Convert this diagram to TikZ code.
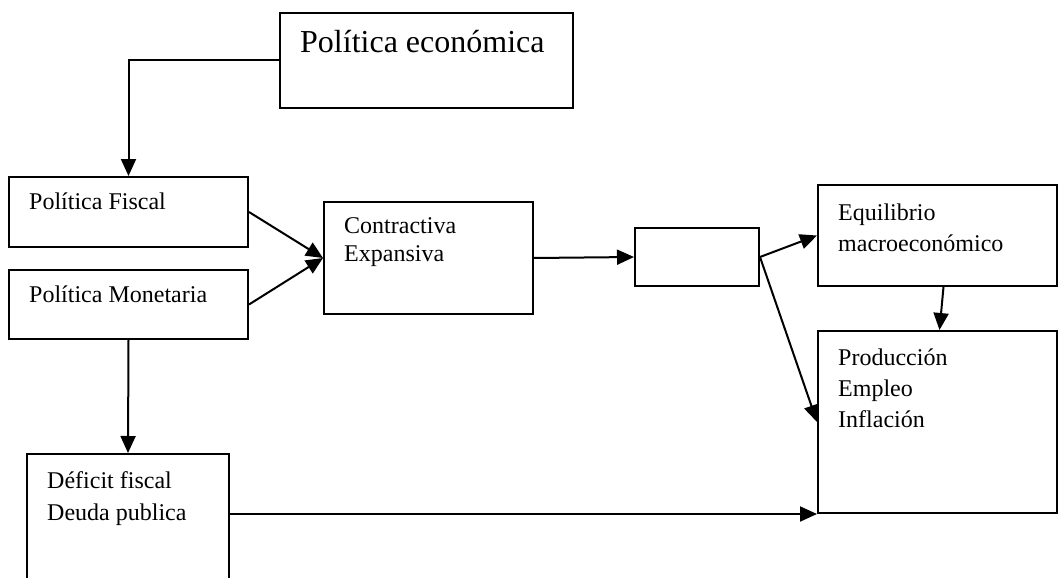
\documentclass[tikz,border=0pt]{standalone}
\usepackage{fontspec}
\setmainfont{Liberation Serif}
\usetikzlibrary{arrows.meta,calc}
\tikzset{
  box/.style={draw, line width=2pt, inner sep=0pt, anchor=north west},
  txt/.style={anchor=base west, inner sep=0pt, align=left, font=\fontsize{24}{30}\selectfont},
  conn/.style={line width=2pt, -{Triangle[length=17pt,width=15pt]}}
}
\begin{document}
\begin{tikzpicture}[x=1pt,y=-1pt]
\useasboundingbox (0,0) rectangle (1058,578);
\clip (0,0) rectangle (1058,578);
% boxes
\node[box, minimum width=293pt, minimum height=95pt] (pe) at (279,12) {};
\node[box, minimum width=239pt, minimum height=70pt] (pf) at (8,176) {};
\node[box, minimum width=239pt, minimum height=69pt] (pm) at (8,269) {};
\node[box, minimum width=209pt, minimum height=112pt] (ce) at (323,201) {};
\node[box, minimum width=124pt, minimum height=58pt] (eb) at (634,227) {};
\node[box, minimum width=239pt, minimum height=101pt] (eq) at (817,184) {};
\node[box, minimum width=239pt, minimum height=182pt] (pr) at (817,330) {};
\node[box, minimum width=202pt, minimum height=140pt] (df) at (26,453) {};
% texts (anchor = baseline of the last line)
\node[txt, font=\fontsize{32}{38}\selectfont] (tpe) at (300,53) {Política económica};
\node[txt] (tpf) at (29,209) {Política Fiscal};
\node[txt] (tpm) at (29,302) {Política Monetaria};
\node[txt, font=\fontsize{24}{28}\selectfont] (tce) at (344,261) {Contractiva\\Expansiva};
\node[txt, font=\fontsize{24}{31}\selectfont] (teq) at (838,251) {Equilibrio\\macroeconómico};
\node[txt, font=\fontsize{24}{31}\selectfont] (tpr) at (838,427) {Producción\\Empleo\\Inflación};
\node[txt, font=\fontsize{24}{32}\selectfont] (tdf) at (47,520) {Déficit fiscal\\Deuda publica};
% connectors
\draw[conn] (pe.west) -| (pf.north);
\draw[conn] (pf.east) -- (ce.west);
\draw[conn] (pm.east) -- (ce.west);
\draw[conn] (ce.east) -- (eb.west);
\draw[conn] (eb.east) -- (eq.west);
\draw[conn] (eb.east) -- (pr.west);
\draw[conn] ($(eq.south)+(6,0)$) -- ($(pr.north)+(2,0)$);
\draw[conn] (pm.south) -- (df.north);
\draw[conn] (pr.south west -| df.east) -- (pr.south west);
\end{tikzpicture}
\end{document}
